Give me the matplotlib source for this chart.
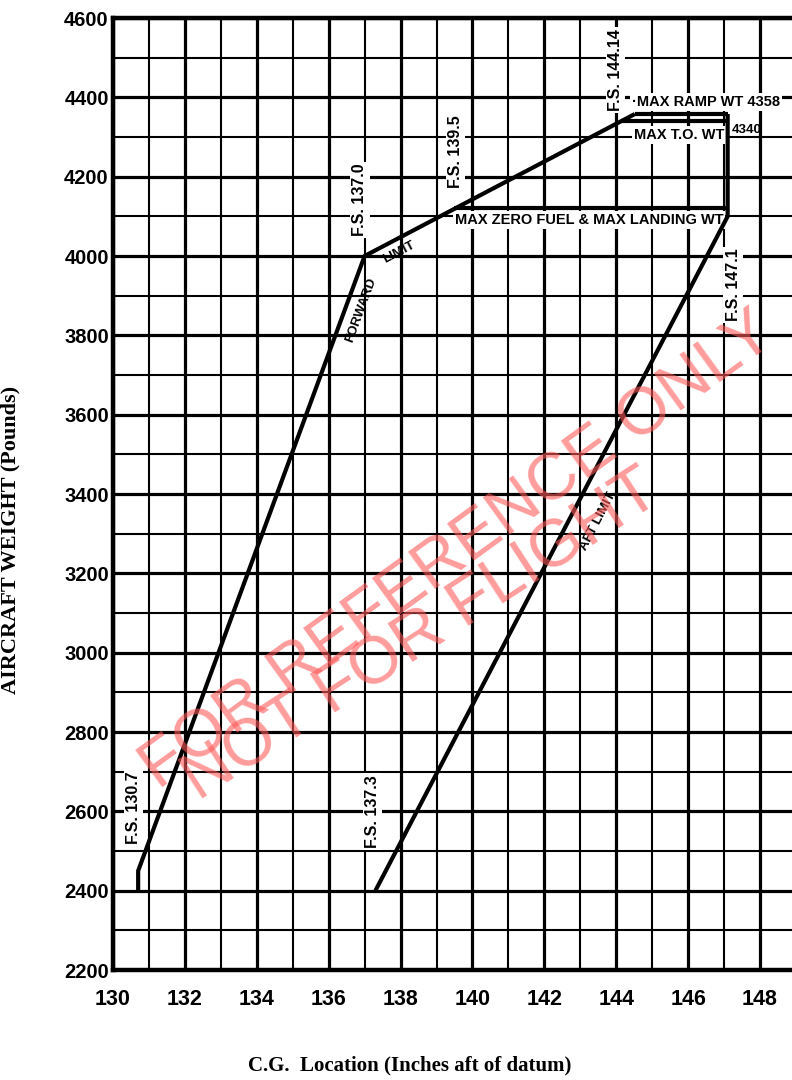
import numpy as np
import matplotlib
matplotlib.use("Agg")
import matplotlib.pyplot as plt

plt.rcParams['font.family'] = ['Liberation Sans', 'DejaVu Sans']

# C.G. envelope (inches aft of datum, pounds)
fwd_limit_cg = [130.7, 130.7, 137.0, 144.14, 144.52]
fwd_limit_wt = [2400, 2450, 4000, 4340, 4358]
ramp_cg = [144.52, 147.1]
ramp_wt = [4358, 4358]
takeoff_cg = [144.14, 147.1]
takeoff_wt = [4340, 4340]
aft_limit_cg = [147.1, 147.1, 137.3]
aft_limit_wt = [4358, 4100, 2400]
zero_fuel_cg = [139.5, 147.1]
zero_fuel_wt = [4120, 4120]

x_ticks = [130, 132, 134, 136, 138, 140, 142, 144, 146, 148]
y_ticks = [2200, 2400, 2600, 2800, 3000, 3200, 3400, 3600, 3800, 4000, 4200, 4400, 4600]

station_labels = [
    ("F.S. 130.7", 130.56, 2608),
    ("F.S. 137.3", 137.22, 2600),
    ("F.S. 137.0", 136.87, 4141),
    ("F.S. 139.5", 139.52, 4262),
    ("F.S. 144.14", 143.97, 4469),
    ("F.S. 147.1", 147.25, 3927),
]

fig = plt.figure(figsize=(7.92, 10.8), dpi=100)
ax = fig.add_axes([113 / 792, 110 / 1080, 679 / 792, 952 / 1080])
ax.set_xlim(130, 148.89)
ax.set_ylim(2200, 4600)

ax.set_xticks(x_ticks)
ax.set_xticks([v + 1 for v in x_ticks[:-1]], minor=True)
ax.set_yticks(y_ticks)
ax.set_yticks([v + 100 for v in y_ticks[:-1]], minor=True)
ax.grid(which='major', color='black', lw=2.3, zorder=1)
ax.grid(which='minor', color='black', lw=1.5, zorder=1)
ax.set_axisbelow(True)

ax.tick_params(which='both', length=0)
ax.tick_params(axis='x', pad=14)
ax.tick_params(axis='y', pad=3)
for lab in ax.get_xticklabels():
    lab.set_fontsize(15.5)
    lab.set_fontweight('bold')
for lab in ax.get_yticklabels():
    lab.set_fontsize(14.5)
    lab.set_fontweight('bold')

for side in ('left', 'bottom', 'top'):
    ax.spines[side].set_linewidth(3.2)
ax.spines['right'].set_visible(False)

# envelope outline
env_kw = dict(color='black', lw=3.0, solid_capstyle='butt', solid_joinstyle='miter', zorder=5)
ax.plot(fwd_limit_cg, fwd_limit_wt, **env_kw)
ax.plot(ramp_cg, ramp_wt, **env_kw)
ax.plot(takeoff_cg, takeoff_wt, **env_kw)
ax.plot(aft_limit_cg, aft_limit_wt, **env_kw)
ax.plot(zero_fuel_cg, zero_fuel_wt, **env_kw)

white_box = dict(facecolor='white', edgecolor='none', pad=1.5)

for text, xv, yv in station_labels:
    ax.text(xv, yv, text, rotation=90, ha='center', va='center', fontsize=11.5,
            fontweight='bold', bbox=white_box, zorder=4)

ax.text(144.44, 4388, "\u00b7MAX RAMP WT 4358", ha='left', va='center', fontsize=10.5,
        fontweight='bold', bbox=white_box, zorder=4)
ax.text(144.5, 4306, "MAX T.O. WT", ha='left', va='center', fontsize=10.5,
        fontweight='bold', bbox=white_box, zorder=4)
ax.text(147.2, 4318, "4340", ha='left', va='center', fontsize=9.5,
        fontweight='bold', zorder=4)
ax.text(143.24, 4090, "MAX ZERO FUEL & MAX LANDING WT", ha='center', va='center',
        fontsize=10.5, fontweight='bold', bbox=white_box, zorder=4)


def line_angle(x0, y0, x1, y1):
    p0 = ax.transData.transform((x0, y0))
    p1 = ax.transData.transform((x1, y1))
    return np.degrees(np.arctan2(p1[1] - p0[1], p1[0] - p0[0]))


fwd_angle = line_angle(fwd_limit_cg[1], fwd_limit_wt[1], fwd_limit_cg[2], fwd_limit_wt[2])
upper_angle = line_angle(fwd_limit_cg[2], fwd_limit_wt[2], fwd_limit_cg[3], fwd_limit_wt[3])
aft_angle = line_angle(aft_limit_cg[2], aft_limit_wt[2], aft_limit_cg[1], aft_limit_wt[1])

ax.text(136.9, 3864, "FORWARD", rotation=fwd_angle, rotation_mode='anchor',
        ha='center', va='center', fontsize=9.5, fontweight='bold', zorder=4)
ax.text(137.95, 4008, "LIMIT", rotation=upper_angle, rotation_mode='anchor',
        ha='center', va='center', fontsize=9.5, fontweight='bold', zorder=4)
ax.text(143.5, 3330, "AFT LIMIT", rotation=aft_angle, rotation_mode='anchor',
        ha='center', va='center', fontsize=9.5, fontweight='bold', zorder=4)

# watermark
wm_kw = dict(rotation_mode='anchor', ha='center', va='center',
             fontsize=48, color='#ff5a5a', alpha=0.6, zorder=6)
ax.text(139.6, 3255, "FOR REFERENCE ONLY", rotation=36, **wm_kw)
ax.text(138.6, 3040, "NOT FOR FLIGHT", rotation=33, **wm_kw)

fig.text(410 / 792, 1 - 1065 / 1080, "C.G.  Location (Inches aft of datum)",
         ha='center', va='center', fontsize=15, fontweight='bold',
         family=['Liberation Serif', 'DejaVu Serif'])
fig.text(20 / 792, 0.5, "AIRCRAFT WEIGHT (Pounds)", rotation=90,
         ha='right', va='center', fontsize=16, fontweight='bold',
         family=['Liberation Serif', 'DejaVu Serif'])

fig.savefig("out.png", dpi=100)
